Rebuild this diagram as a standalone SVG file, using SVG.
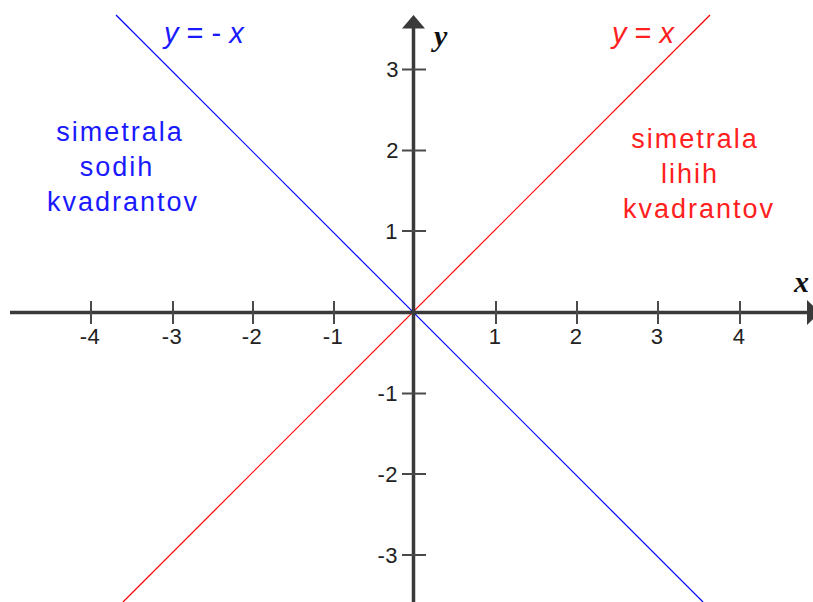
<svg xmlns="http://www.w3.org/2000/svg" width="813" height="602" viewBox="0 0 813 602">
<style>
.axis{stroke:#3a3a3a;stroke-width:3.5;fill:none}
.tick{stroke:#4a4a4a;stroke-width:2;fill:none}
.num{font-family:"Liberation Sans",Arial,sans-serif;font-size:22px;fill:#222;letter-spacing:0.5px}
.lab{font-family:"Liberation Serif","Times New Roman",serif;font-size:30px;font-weight:bold;font-style:italic;fill:#111}
.eq{font-family:"Liberation Sans",Arial,sans-serif;font-size:29px}
.txt{font-family:"Liberation Sans",Arial,sans-serif;font-size:27px;letter-spacing:2px;text-anchor:middle}
.blue{fill:#1a1aff}
.red{fill:#ff2020}
</style>
<rect width="813" height="602" fill="#fff"/>
<g id="connectors">
<line x1="116" y1="15" x2="703" y2="602" stroke="#0000ff" stroke-width="1.2"/>
<line x1="710" y1="15" x2="123" y2="602" stroke="#ff0000" stroke-width="1.2"/>
</g>
<g id="x-axis">
<line class="axis" x1="10" y1="312.5" x2="810" y2="312.5"/>
<polygon points="807,300 820,312.5 807,325" fill="#3a3a3a"/>
<g class="tick">
<line x1="91" y1="301" x2="91" y2="324"/>
<line x1="173" y1="301" x2="173" y2="324"/>
<line x1="253" y1="301" x2="253" y2="324"/>
<line x1="334" y1="301" x2="334" y2="324"/>
<line x1="496" y1="301" x2="496" y2="324"/>
<line x1="577" y1="301" x2="577" y2="324"/>
<line x1="658" y1="301" x2="658" y2="324"/>
<line x1="740" y1="301" x2="740" y2="324"/>
</g>
<g class="num" text-anchor="middle">
<text x="90" y="344">-4</text>
<text x="172" y="344">-3</text>
<text x="252" y="344">-2</text>
<text x="333" y="344">-1</text>
<text x="495" y="344">1</text>
<text x="576" y="344">2</text>
<text x="657" y="344">3</text>
<text x="739" y="344">4</text>
</g>
<text class="lab" x="794" y="292">x</text>
</g>
<g id="y-axis">
<line class="axis" x1="413.5" y1="25" x2="413.5" y2="602"/>
<polygon points="402,28.5 413.5,15 425,28.5" fill="#3a3a3a"/>
<g class="tick">
<line x1="402" y1="69.5" x2="426" y2="69.5"/>
<line x1="402" y1="150.5" x2="426" y2="150.5"/>
<line x1="402" y1="231" x2="426" y2="231"/>
<line x1="402" y1="393.5" x2="426" y2="393.5"/>
<line x1="402" y1="474" x2="426" y2="474"/>
<line x1="402" y1="555" x2="426" y2="555"/>
</g>
<g class="num" text-anchor="end">
<text x="399" y="77">3</text>
<text x="399" y="158">2</text>
<text x="398" y="239">1</text>
<text x="398" y="401">-1</text>
<text x="398" y="482">-2</text>
<text x="398" y="563">-3</text>
</g>
<text class="lab" x="434" y="46">y</text>
</g>
<g id="label-neg">
<text class="eq blue" x="164" y="43"><tspan font-style="italic">y</tspan> = - <tspan font-style="italic">x</tspan></text>
</g>
<g id="label-pos">
<text class="eq red" x="612" y="43"><tspan font-style="italic">y</tspan> = <tspan font-style="italic">x</tspan></text>
</g>
<g id="text-even">
<text class="txt blue" x="120" y="141">simetrala</text>
<text class="txt blue" x="117" y="176">sodih</text>
<text class="txt blue" x="123" y="211">kvadrantov</text>
</g>
<g id="text-odd">
<text class="txt red" x="695" y="148">simetrala</text>
<text class="txt red" x="690" y="183">lihih</text>
<text class="txt red" x="699" y="218">kvadrantov</text>
</g>
</svg>
